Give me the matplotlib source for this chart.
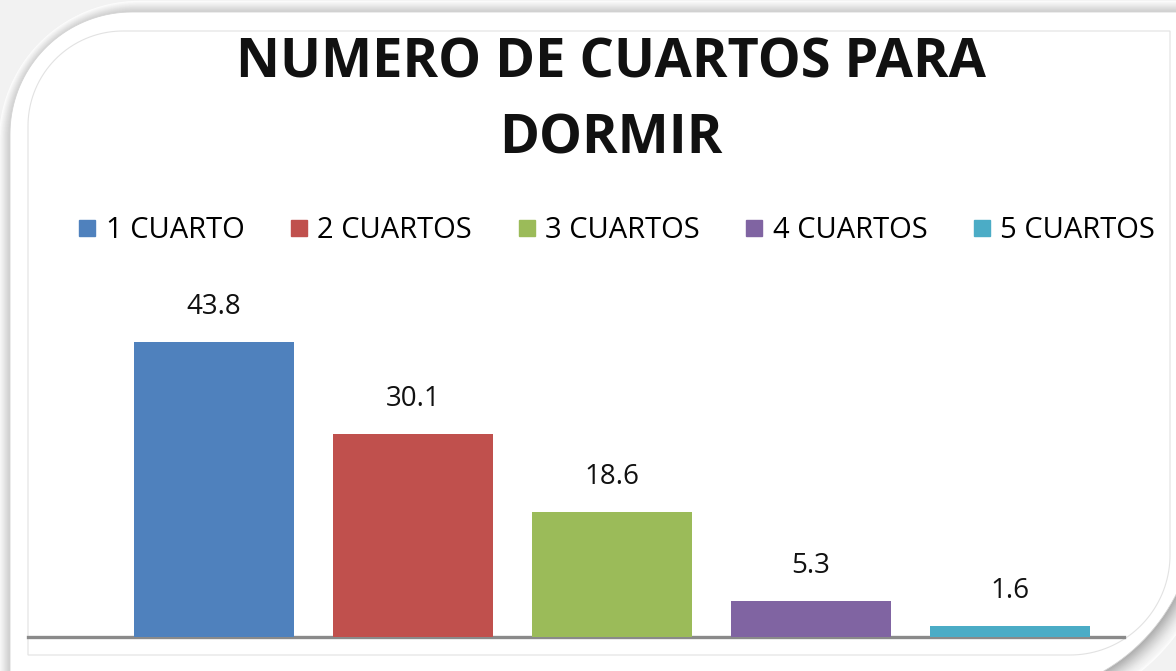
import numpy as np
import matplotlib
matplotlib.use("Agg")
import matplotlib.pyplot as plt
from matplotlib.patches import Polygon
from matplotlib.lines import Line2D

categories = ["1 CUARTO", "2 CUARTOS", "3 CUARTOS", "4 CUARTOS", "5 CUARTOS"]
values = [43.8, 30.1, 18.6, 5.3, 1.6]
colors = ["#4F81BD", "#C0504D", "#9BBB59", "#8064A2", "#4BACC6"]
title_lines = ["NUMERO DE CUARTOS PARA", "DORMIR"]

W, H = 1176, 671
fig = plt.figure(figsize=(W / 100, H / 100), dpi=100)
fig.patch.set_facecolor("#f2f2f2")


def shape(x0, y0, x1, y1, r_tl, r_br, n=40):
    """Rectangle (pixel coords, y down) with rounded top-left and bottom-right corners."""
    pts = []
    t = np.linspace(np.pi, 1.5 * np.pi, n)
    cx, cy = x0 + r_tl, y0 + r_tl
    pts += list(zip(cx + r_tl * np.cos(t), cy + r_tl * np.sin(t)))
    pts.append((x1, y0))
    t = np.linspace(0, 0.5 * np.pi, n)
    cx, cy = x1 - r_br, y1 - r_br
    pts += list(zip(cx + r_br * np.cos(t), cy + r_br * np.sin(t)))
    pts.append((x0, y1))
    return np.array(pts)


bg = fig.add_axes([0, 0, 1, 1])
bg.set_xlim(0, W)
bg.set_ylim(H, 0)
bg.axis("off")

# soft glow / shadow around the white card
for d in range(16, 0, -1):
    g = 0.80 + 0.012 * d
    bg.add_patch(Polygon(shape(10 - d * 0.7, 12 - d * 0.7, 1200 + d, 700 + d, 125 + d, 185 + d),
                         closed=True, facecolor=(g, g, g), edgecolor="none", zorder=0))
for d in range(14, 0, -1):
    g = 0.62 + 0.025 * d
    bg.add_patch(Polygon(shape(14 + d, 16 + d, 1196 + d * 0.9, 696 + d * 0.9, 125, 185),
                         closed=True, facecolor=(g, g, g), edgecolor="none", alpha=0.35, zorder=0.5))
bg.add_patch(Polygon(shape(10, 12, 1196, 696, 122, 185), closed=True,
                     facecolor="white", edgecolor="#d4d4d4", lw=0.6, zorder=1))
bg.add_patch(Polygon(shape(28, 31, 1170, 655, 95, 100), closed=True,
                     facecolor="white", edgecolor="#e2e2e2", lw=0.8, zorder=2))

# main axes: baseline at y=637 px, bars centred at 214 + 199*i px
left_px, right_px = 28, 1124
base_px, top_px = 637, 290
px_per_unit = (637 - 342) / 43.8
ax = fig.add_axes([left_px / W, (H - base_px) / H,
                   (right_px - left_px) / W, (base_px - top_px) / H])
ax.patch.set_alpha(0)
x = list(range(len(categories)))
ax.set_xlim(-(214 - left_px) / 199, (right_px - 214) / 199)
ax.set_ylim(0, (base_px - top_px) / px_per_unit)
ax.bar(x, values, width=0.8, color=colors, zorder=3)
for xi, v in zip(x, values):
    ax.text(xi, v + 35 / px_per_unit, f"{v:.1f}", ha="center", va="center",
            fontsize=20, family="Open Sans", color="#111111")
for s in ["top", "right", "left"]:
    ax.spines[s].set_visible(False)
ax.spines["bottom"].set_color("#8a8a8a")
ax.spines["bottom"].set_linewidth(2.4)
ax.set_xticks([])
ax.set_yticks([])

handles = [Line2D([], [], marker="s", linestyle="none", markersize=12,
                  markerfacecolor=c, markeredgecolor=c) for c in colors]
fig.legend(handles, categories, loc="center", ncol=5,
           bbox_to_anchor=(615 / W, 1 - 231 / H), frameon=False,
           prop={"family": "Open Sans", "size": 21},
           handletextpad=0.2, columnspacing=1.45, handlelength=0.85)

for i, line in enumerate(title_lines):
    fig.text(611 / W, 1 - (77 + 76 * i) / H, line, ha="center", va="baseline",
             fontsize=39, fontweight="bold", family="Open Sans", color="#111111")

fig.savefig("out.png", dpi=100, facecolor=fig.get_facecolor())
